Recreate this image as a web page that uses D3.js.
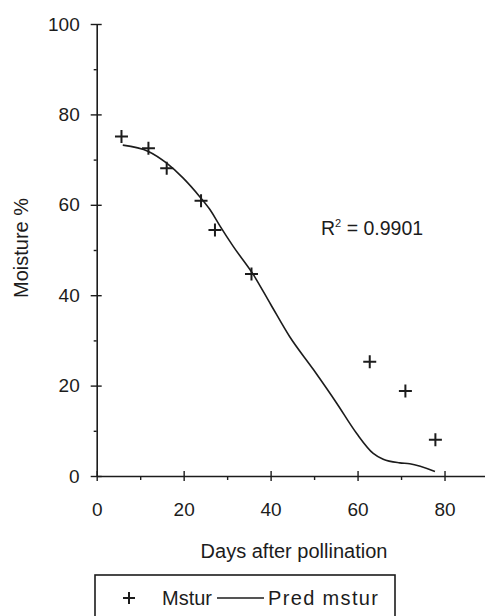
<!DOCTYPE html>
<html>
<head>
<meta charset="utf-8">
<script src="https://cdn.jsdelivr.net/npm/d3@7"></script>
<style>
  body { margin: 0; background: #fff; }
  text { font-family: "Liberation Sans", Arial, sans-serif; fill: #1c1c1c; }
</style>
</head>
<body>
<div id="chart"></div>
<script>
// observed moisture (Mstur)
var obsDays = [5.7, 11.9, 16.1, 24.0, 27.2, 35.6, 62.8, 71.0, 77.9];
var obsMoisture = [75.1, 72.5, 68.1, 60.9, 54.4, 44.7, 25.3, 18.8, 8.0];

// predicted moisture (Pred mstur)
var predDays = [6.0, 11.9, 16.1, 19.9, 23.7, 26.0, 28.3, 31.4, 36.0, 40.0, 44.4, 49.8, 55.2, 59.8, 63.6, 65.9, 69.7, 72.0, 77.8];
var predMoisture = [73.2, 71.8, 69.2, 65.9, 61.8, 59.0, 55.4, 50.8, 44.6, 38.0, 30.8, 23.6, 16.1, 9.4, 5.0, 3.7, 2.9, 2.7, 1.0];

var xMajor = [0, 20, 40, 60, 80];
var xMinor = [10, 30, 50, 70];
var yMajor = [0, 20, 40, 60, 80, 100];
var yMinor = [10, 30, 50, 70, 90];

var svgWidth = 485;
var svgHeight = 616;
var ink = "#1c1c1c";

var svg = d3.select("#chart")
  .append("svg")
  .attr("width", svgWidth)
  .attr("height", svgHeight);

var xScale = d3.scaleLinear().domain([0, 90]).range([96.7, 488]);
var yScale = d3.scaleLinear().domain([0, 100]).range([476, 24]);

// y axis: minor ticks on the left, major ticks cross the line
var yAxis = svg.append("g")
  .attr("transform", `translate(${xScale(0)},0)`)
  .call(d3.axisLeft(yScale).tickValues(yMajor).tickSize(6).tickPadding(11).tickSizeOuter(0));
yAxis.selectAll(".tick line").attr("x1", 5);
svg.append("g")
  .attr("transform", `translate(${xScale(0)},0)`)
  .call(d3.axisLeft(yScale).tickValues(yMinor).tickSize(3).tickFormat("").tickSizeOuter(0))
  .select(".domain").remove();

// x axis
var xAxis = svg.append("g")
  .attr("transform", `translate(0,${yScale(0)})`)
  .call(d3.axisBottom(xScale).tickValues(xMajor).tickSize(5).tickPadding(22).tickSizeOuter(0));
xAxis.selectAll(".tick line").attr("y1", -5);
svg.append("g")
  .attr("transform", `translate(0,${yScale(0)})`)
  .call(d3.axisBottom(xScale).tickValues(xMinor).tickSize(4).tickFormat("").tickSizeOuter(0))
  .select(".domain").remove();

svg.selectAll(".domain").attr("stroke", ink).attr("stroke-width", 1.6);
svg.selectAll(".tick line").attr("stroke", ink).attr("stroke-width", 1.4);
svg.selectAll(".tick text")
  .attr("font-size", 19)
  .attr("font-family", "Liberation Sans, Arial, sans-serif")
  .attr("fill", ink);

// predicted line
var line = d3.line()
  .x(function(d, i) { return xScale(predDays[i]); })
  .y(function(d) { return yScale(d); })
  .curve(d3.curveMonotoneX);

svg.append("path")
  .datum(predMoisture)
  .attr("d", line)
  .attr("fill", "none")
  .attr("stroke", ink)
  .attr("stroke-width", 1.6);

// observed points as plus marks
function plusPath(x, y, s) {
  return `M${x - s},${y}H${x + s}M${x},${y - s}V${y + s}`;
}
svg.selectAll(".obs")
  .data(obsMoisture)
  .enter()
  .append("path")
  .attr("class", "obs")
  .attr("d", function(d, i) { return plusPath(xScale(obsDays[i]), yScale(d), 6.5); })
  .attr("stroke", ink)
  .attr("stroke-width", 2)
  .attr("fill", "none");

// axis titles
svg.append("text")
  .attr("x", 294)
  .attr("y", 558)
  .attr("text-anchor", "middle")
  .attr("font-size", 20)
  .text("Days after pollination");

svg.append("text")
  .attr("transform", "translate(28,248) rotate(-90)")
  .attr("text-anchor", "middle")
  .attr("font-size", 20)
  .text("Moisture %");

// R squared note
var r2 = svg.append("text")
  .attr("x", 321)
  .attr("y", 235)
  .attr("font-size", 19.5);
r2.append("tspan").text("R");
r2.append("tspan").attr("dy", -8).attr("font-size", 11).text("2");
r2.append("tspan").attr("dy", 8).text(" = 0.9901");

// legend
var legend = svg.append("g");
legend.append("rect")
  .attr("x", 95)
  .attr("y", 575)
  .attr("width", 300)
  .attr("height", 60)
  .attr("fill", "none")
  .attr("stroke", ink)
  .attr("stroke-width", 1.6);
legend.append("path")
  .attr("d", plusPath(129, 598, 6))
  .attr("stroke", ink)
  .attr("stroke-width", 2);
legend.append("text")
  .attr("x", 162)
  .attr("y", 605)
  .attr("font-size", 20)
  .text("Mstur");
legend.append("line")
  .attr("x1", 217).attr("x2", 264)
  .attr("y1", 598).attr("y2", 598)
  .attr("stroke", ink)
  .attr("stroke-width", 1.4);
legend.append("text")
  .attr("x", 268)
  .attr("y", 605)
  .attr("font-size", 20)
  .attr("textLength", 110)
  .attr("lengthAdjust", "spacing")
  .text("Pred mstur");
</script>
</body>
</html>
